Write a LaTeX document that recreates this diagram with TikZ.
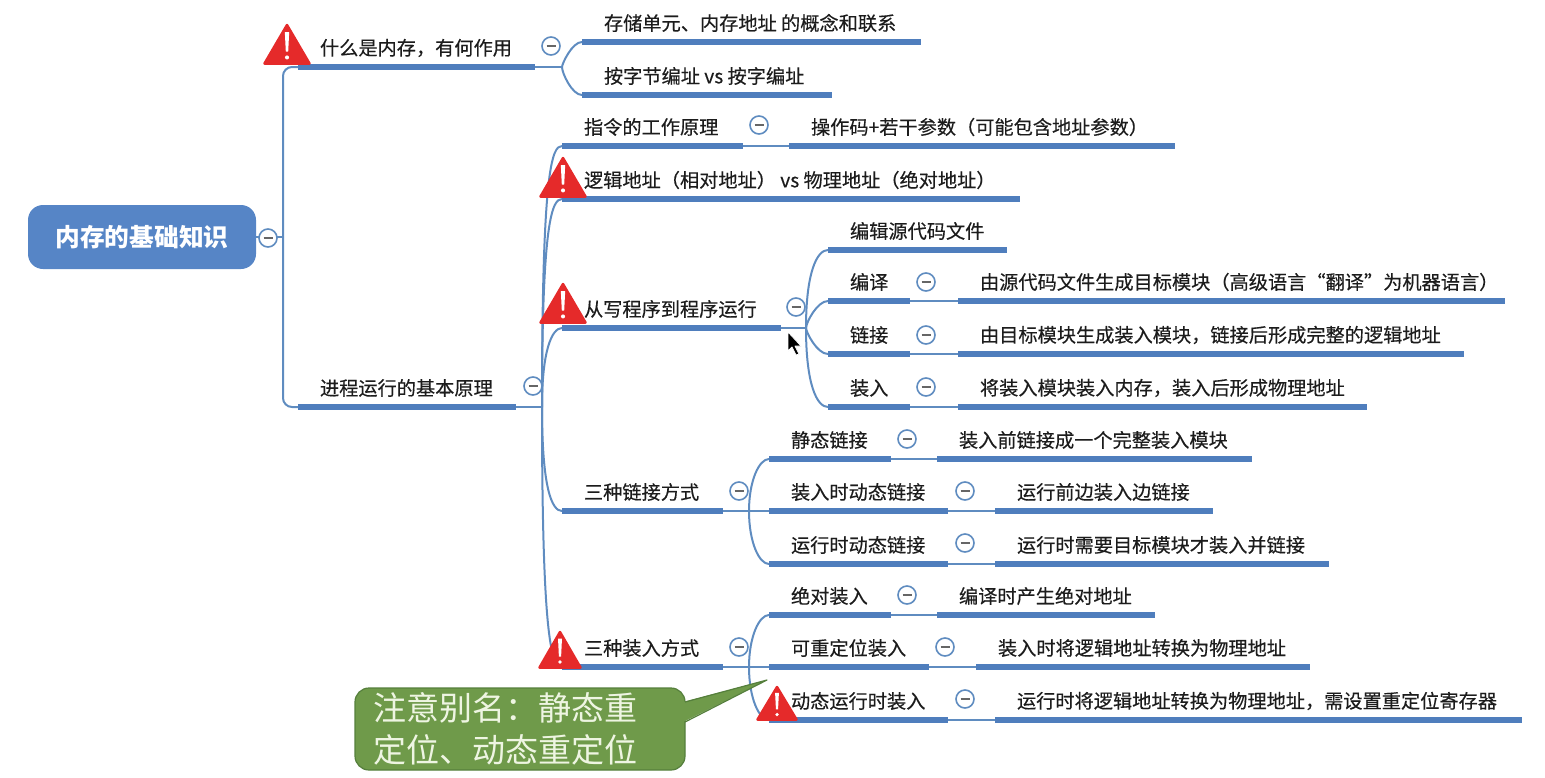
\documentclass[tikz,border=0pt]{standalone}
\usepackage{fontspec}
\usetikzlibrary{calc}
\setmainfont[FakeBold=0.35]{Noto Sans CJK SC}
\newfontfamily\plaincjk{Noto Sans CJK SC}
\definecolor{barblue}{HTML}{4F7EBD}
\definecolor{linkblue}{HTML}{5F8CC0}
\definecolor{rootblue}{HTML}{5685C6}
\definecolor{warnred}{HTML}{E52A2A}
\definecolor{notegreen}{HTML}{6F9A4A}
\definecolor{noteline}{HTML}{557F3C}
\definecolor{notetext}{HTML}{EEF5E2}
\definecolor{inktext}{HTML}{1C1C1C}
\tikzset{
  topicnode/.style={anchor=south,inner sep=0pt,outer sep=0pt,minimum height=38pt,text=inktext,font=\fontsize{19.2}{22}\selectfont},
  barline/.style={barblue,line width=5.5pt},
  conn/.style={linkblue,line width=2pt},
  foldmark/.style={circle,draw=linkblue,line width=1.6pt,fill=white,minimum size=18pt,inner sep=0pt,outer sep=0pt},
  rootnode/.style={rounded corners=15pt,fill=rootblue,text=white,minimum width=228pt,minimum height=64pt,inner sep=0pt,font=\plaincjk\fontsize{24.7}{28}\selectfont\bfseries},
}
\newcommand{\topic}[5]{%
  \pgfmathsetmacro\tcx{(#2+#3)/2}%
  \pgfmathsetmacro\twd{#3-#2}%
  \node[topicnode,minimum width=\twd pt] (#1) at (\tcx,#4) {\makebox[\twd pt][l]{\hspace{22pt}#5}};
  \draw[barline] (#1.south west) -- (#1.south east);
}
\newcommand{\branch}[2]{%
  \draw[conn] (#1) .. controls ($(#1 |- #2.south west)!22pt!(#1)$) and ($(#1 |- #2.south west)!0.5!(#2.south west)$) .. (#2.south west);
}
\newcommand{\fold}[3]{%
  \node[foldmark] (#1) at (#2,#3) {};
  \draw[gray!80!black,line width=1.3pt] ([xshift=-4.5pt]#1.center) -- ([xshift=4.5pt]#1.center);
}
\newcommand{\warn}[4]{% cx, bottom y, half width, height
  \begin{scope}[shift={(#1,#2)}]
    \pgfmathsetmacro\wh{#3}\pgfmathsetmacro\wv{#4}
    \fill[warnred,draw=warnred,line width=2.5pt,line join=round]
      (-\wh+1.5,-1.5) -- (\wh-1.5,-1.5) -- (0,-\wv+2) -- cycle;
    \fill[white] (-0.09*\wh,-0.78*\wv) -- (0.09*\wh,-0.78*\wv) -- (0.05*\wh,-0.32*\wv) -- (-0.05*\wh,-0.32*\wv) -- cycle;
    \fill[white] (0,-0.18*\wv) circle (0.085*\wh);
  \end{scope}
}
\begin{document}
\begin{tikzpicture}[x=1pt,y=-1pt]
\useasboundingbox (0,0) rectangle (1545,777);
\node[rootnode] (root) at (142,237) {\raisebox{-2pt}{内存的基础知识}};

\topic{mem}{298}{535}{67}{什么是内存，有何作用}
\topic{cell}{582}{921}{42}{存储单元、内存地址 的概念和联系}
\topic{addr}{582}{832}{95}{按字节编址 vs 按字编址}
\topic{proc}{298}{516}{407}{进程运行的基本原理}
\topic{inst}{562}{743}{146}{指令的工作原理}
\topic{opcode}{789}{1175}{146}{操作码+若干参数（可能包含地址参数）}
\topic{logic}{562}{1020}{199}{逻辑地址（相对地址） vs 物理地址（绝对地址）}
\topic{run}{562}{781}{328}{从写程序到程序运行}
\topic{edit}{828}{1007}{250}{编辑源代码文件}
\topic{comp}{828}{910}{301}{编译}
\topic{link}{828}{910}{354}{链接}
\topic{load}{828}{910}{407}{装入}
\topic{compd}{958}{1505}{301}{由源代码文件生成目标模块（高级语言“翻译”为机器语言）}
\topic{linkd}{958}{1464}{354}{由目标模块生成装入模块，链接后形成完整的逻辑地址}
\topic{loadd}{958}{1367}{407}{将装入模块装入内存，装入后形成物理地址}
\topic{ways}{562}{723}{511}{三种链接方式}
\topic{stat}{769}{891}{459}{静态链接}
\topic{ldyn}{769}{948}{511}{装入时动态链接}
\topic{rdyn}{769}{948}{564}{运行时动态链接}
\topic{statd}{937}{1252}{459}{装入前链接成一个完整装入模块}
\topic{ldynd}{995}{1213}{511}{运行前边装入边链接}
\topic{rdynd}{995}{1329}{564}{运行时需要目标模块才装入并链接}
\topic{lways}{562}{723}{667}{三种装入方式}
\topic{abs}{769}{891}{615}{绝对装入}
\topic{rel}{769}{929}{667}{可重定位装入}
\topic{dyn}{769}{948}{720}{动态运行时装入}
\topic{absd}{937}{1155}{615}{编译时产生绝对地址}
\topic{reld}{976}{1310}{667}{装入时将逻辑地址转换为物理地址}
\topic{dynd}{995}{1522}{720}{运行时将逻辑地址转换为物理地址，需设置重定位寄存器}

% junctions
\coordinate (j0) at (283,237);
\coordinate (jmem) at (562,67);
\coordinate (jproc) at (542,407);
\coordinate (jrun) at (806,328);
\coordinate (jways) at (749,511);
\coordinate (jlways) at (749,667);

% connectors
\draw[conn] (root.east) -- (j0);
\draw[conn,rounded corners=9pt] (j0) |- (mem.south west);
\draw[conn,rounded corners=9pt] (j0) |- (proc.south west);
\draw[conn] (mem.south east) -- (jmem);
\branch{jmem}{cell}
\branch{jmem}{addr}
\draw[conn] (proc.south east) -- (jproc);
\branch{jproc}{inst}
\branch{jproc}{logic}
\branch{jproc}{run}
\branch{jproc}{ways}
\branch{jproc}{lways}
\draw[conn] (inst.south east) -- (opcode.south west);
\draw[conn] (run.south east) -- (jrun);
\branch{jrun}{edit}
\branch{jrun}{comp}
\branch{jrun}{link}
\branch{jrun}{load}
\draw[conn] (comp.south east) -- (compd.south west);
\draw[conn] (link.south east) -- (linkd.south west);
\draw[conn] (load.south east) -- (loadd.south west);
\draw[conn] (ways.south east) -- (jways);
\branch{jways}{stat}
\draw[conn] (jways) -- (ldyn.south west);
\branch{jways}{rdyn}
\draw[conn] (stat.south east) -- (statd.south west);
\draw[conn] (ldyn.south east) -- (ldynd.south west);
\draw[conn] (rdyn.south east) -- (rdynd.south west);
\draw[conn] (lways.south east) -- (jlways);
\branch{jlways}{abs}
\draw[conn] (jlways) -- (rel.south west);
\branch{jlways}{dyn}
\draw[conn] (abs.south east) -- (absd.south west);
\draw[conn] (rel.south east) -- (reld.south west);
\draw[conn] (dyn.south east) -- (dynd.south west);

% fold marks
\fold{f0}{268}{238}
\fold{f1}{551}{46}
\fold{f2}{533}{386}
\fold{f3}{759}{125}
\fold{f4}{796}{307}
\fold{f5}{926}{282}
\fold{f6}{926}{335}
\fold{f7}{926}{387}
\fold{f8}{739}{491}
\fold{f9}{907}{439}
\fold{f10}{965}{491}
\fold{f11}{965}{543}
\fold{f12}{739}{647}
\fold{f13}{907}{595}
\fold{f14}{945}{647}
\fold{f15}{965}{699}

% warnings
\warn{287}{65}{24}{42}
\warn{563}{198}{24}{42}
\warn{563}{324}{24}{42}
\warn{560}{669}{22}{39}
\warn{777}{721}{21}{36}

% note
\coordinate (tip) at (767,680);
\coordinate (tipa) at (685,702);
\coordinate (tipb) at (685,722);
\draw[fill=notegreen,draw=noteline,line width=1.2pt,rounded corners=14pt] (355,688) rectangle (685,770);
\fill[notegreen] ([xshift=-2pt]tipa) -- (tip) -- ([xshift=-2pt]tipb) -- cycle;
\draw[noteline,line width=1.2pt,line join=round] (tipa) -- (tip) -- (tipb);
\node[text=notetext,align=left,inner sep=0pt,font=\plaincjk\fontsize{33}{42}\selectfont] (note) at (505,729) {注意别名：静态重\\定位、动态重定位};

% cursor
\draw[fill=black,draw=white,line width=0.8pt,line join=round] (788,332) -- (788,351) -- (792,347) -- (796,355) -- (799,354) -- (795,346) -- (801,346) -- cycle;
\end{tikzpicture}
\end{document}
